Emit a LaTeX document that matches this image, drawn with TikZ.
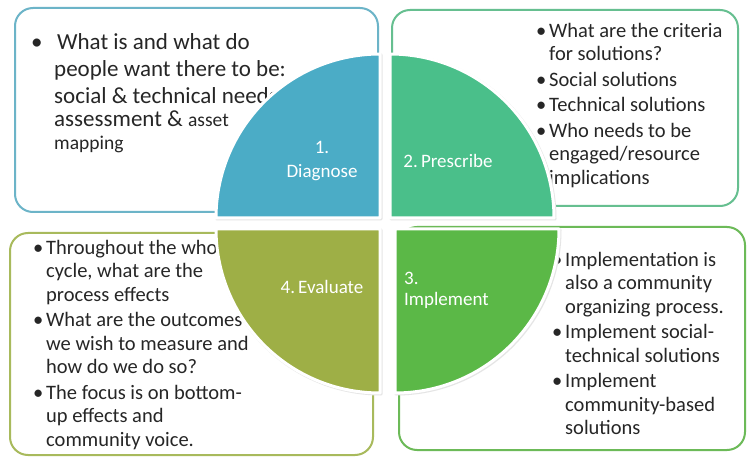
\documentclass[tikz,border=0pt]{standalone}
\usepackage{fontspec}
\setmainfont{Carlito}
\definecolor{qblue}{HTML}{4BACC6}
\definecolor{qteal}{HTML}{4ABF8A}
\definecolor{qgreen}{HTML}{5BB847}
\definecolor{qolive}{HTML}{9EAF46}
\definecolor{bblue}{HTML}{6CB4C8}
\definecolor{bteal}{HTML}{66BF90}
\definecolor{bgreen}{HTML}{6CBA58}
\definecolor{bolive}{HTML}{A8BA5C}
\newcommand{\bl}[1][13pt]{\makebox[#1][l]{•}}
\newcommand{\ind}[1][13pt]{\hspace*{#1}}
\begin{document}
\begin{tikzpicture}[x=1pt,y=-1pt,
  box/.style={line width=2pt, rounded corners=18pt, fill=white},
  quad/.style={draw=white, line width=3pt, line join=round},
  shade/.style={draw=black!10, line width=3pt, line join=round},
  body/.style={anchor=north west, inner sep=0pt, align=left, text=black!85,
     font=\fontsize{20.5}{23.5}\selectfont},
  qlabel/.style={inner sep=0pt, text=white, font=\fontsize{19}{24}\selectfont}]
\useasboundingbox (0,0) rectangle (747,462);
\fill[white] (0,0) rectangle (747,462);
% outer boxes
\draw[box, draw=bblue] (15,8) rectangle (378,212);
\draw[box, draw=bteal] (392,10) rectangle (738,206);
\draw[box, draw=bolive] (10,233) rectangle (373,455);
\draw[box, draw=bgreen] (399,227) rectangle (745,450);
% texts
\node[body, font=\fontsize{23}{27}\selectfont] (tl) at (31,33) {%
\bl[23pt]\hspace{3pt}What is and what do\\
\ind[23pt]people want there to be:\\
\ind[23pt]social \& technical needs\\[-4pt]
\ind[23pt]assessment \& {\fontsize{19.5}{23}\selectfont asset}\\[-4pt]
\ind[23pt]{\fontsize{19.5}{23}\selectfont mapping}};
\node[body] (tr) at (536,23) {%
\bl What are the criteria\\
\ind for solutions?\\[2pt]
\bl Social solutions\\[2pt]
\bl Technical solutions\\[2pt]
\bl Who needs to be\\
\ind engaged/resource\\
\ind implications};
\node[body] (bl) at (33,240) {%
\bl Throughout the whole\\
\ind cycle, what are the\\
\ind process effects\\[2pt]
\bl What are the outcomes\\
\ind we wish to measure and\\
\ind how do we do so?\\[2pt]
\bl The focus is on bottom-\\
\ind up effects and\\
\ind community voice.};
\node[body] (br) at (552,252) {%
\bl Implementation is\\
\ind also a community\\
\ind organizing process.\\[2pt]
\bl Implement social-\\
\ind technical solutions\\[2pt]
\bl Implement\\
\ind community-based\\
\ind solutions};
% quadrant shadows
\draw[shade] (381,219) -- (217,219) arc[start angle=180, end angle=270, radius=164] -- cycle;
\draw[shade] (391,219) -- (391,55) arc[start angle=270, end angle=360, radius=164] -- cycle;
\draw[shade] (396,230) -- (560,230) arc[start angle=0, end angle=90, radius=164] -- cycle;
\draw[shade] (381,230) -- (381,394) arc[start angle=90, end angle=180, radius=164] -- cycle;
% quadrants
\draw[quad, fill=qblue] (380,218) -- (216,218) arc[start angle=180, end angle=270, radius=164] -- cycle;
\draw[quad, fill=qteal] (390,218) -- (390,54) arc[start angle=270, end angle=360, radius=164] -- cycle;
\draw[quad, fill=qgreen] (395,229) -- (559,229) arc[start angle=0, end angle=90, radius=164] -- cycle;
\draw[quad, fill=qolive] (380,229) -- (380,393) arc[start angle=90, end angle=180, radius=164] -- cycle;
% labels
\node[qlabel, align=center] (q1) at (322,161) {1.\\Diagnose};
\node[qlabel] (q2) at (448,161) {2.\,Prescribe};
\node[qlabel] (q4) at (322,287) {4.\,Evaluate};
\node[qlabel, align=left, anchor=west, font=\fontsize{19}{21}\selectfont] (q3) at (404,290) {3.\\Implement};
\end{tikzpicture}
\end{document}
